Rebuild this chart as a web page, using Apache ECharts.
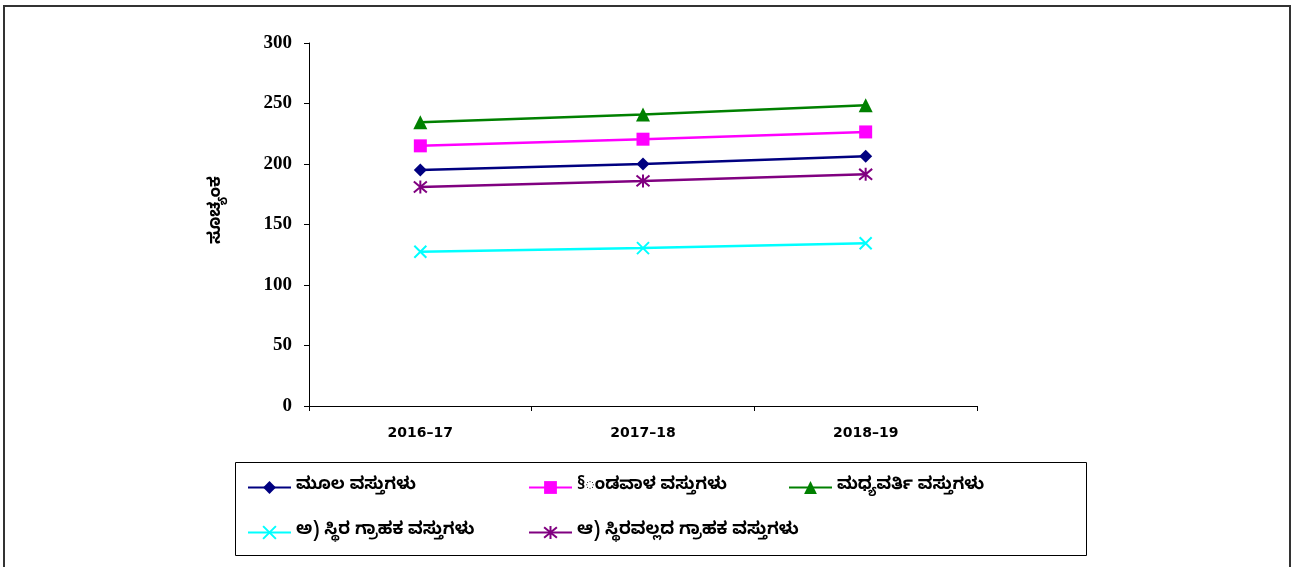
<!DOCTYPE html>
<html>
<head>
<meta charset="utf-8">
<script src="https://cdn.jsdelivr.net/npm/echarts@6/dist/echarts.min.js"></script>
<style>
html,body{margin:0;padding:0;background:#fff;}
#chart{width:1305px;height:567px;}
</style>
</head>
<body>
<div id="chart"></div>
<script>
const categories = ['2016-17', '2017-18', '2018-19'];
const yTicks = [0, 50, 100, 150, 200, 250, 300];
const yAxisTitle = 'ಸೂಚ್ಯಂಕ';
const seriesNames = ['ಮೂಲ ವಸ್ತುಗಳು', '§ಂಡವಾಳ ವಸ್ತುಗಳು', 'ಮಧ್ಯವರ್ತಿ ವಸ್ತುಗಳು', 'ಅ) ಸ್ಥಿರ ಗ್ರಾಹಕ ವಸ್ತುಗಳು', 'ಆ) ಸ್ಥಿರವಲ್ಲದ ಗ್ರಾಹಕ ವಸ್ತುಗಳು'];
const basicGoods = [195, 200, 206.5];
const capitalGoods = [215, 220.5, 226.5];
const intermediateGoods = [234.5, 241, 248.5];
const consumerDurables = [127.5, 130.5, 134.5];
const consumerNonDurables = [181, 186, 191.5];

const kn = '"Noto Sans Kannada","Lohit Kannada","Tunga","Noto Sans","DejaVu Sans",sans-serif';
const colors = ['#000080', '#FF00FF', '#008000', '#00FFFF', '#800080'];
const symbols = ['diamond', 'rect', 'triangle', 'path://M0,0L10,10M10,0L0,10', 'path://M0,0L10,10M10,0L0,10M5,-1L5,11'];
const symbolSizes = [13, 13, 14, 12, 13];
const dataSets = [basicGoods, capitalGoods, intermediateGoods, consumerDurables, consumerNonDurables];
const legendPos = [[247, 479], [528, 479], [788, 479], [247, 524], [528, 524]];

const series = dataSets.map((d, i) => {
  const isPath = symbols[i].startsWith('path://');
  return {
    name: seriesNames[i],
    type: 'line',
    data: d,
    symbol: symbols[i],
    symbolSize: symbolSizes[i],
    lineStyle: { color: colors[i], width: 2.5 },
    itemStyle: isPath ? { color: colors[i], borderColor: colors[i], borderWidth: 2 } : { color: colors[i] },
    emphasis: { disabled: true },
    animation: false
  };
});

const legends = seriesNames.map((n, i) => ({
  data: [n],
  left: legendPos[i][0],
  top: legendPos[i][1],
  padding: 0,
  orient: 'horizontal',
  itemWidth: 43,
  itemHeight: 16,
  itemGap: 4,
  selectedMode: false,
  textStyle: { fontFamily: kn, fontSize: 17, fontWeight: 'bold', color: '#000' }
}));

const chart = echarts.init(document.getElementById('chart'), null, { renderer: 'canvas' });
chart.setOption({
  backgroundColor: '#fff',
  animation: false,
  grid: { left: 309, right: 328, top: 43, bottom: 161, containLabel: false },
  xAxis: {
    type: 'category',
    data: categories,
    boundaryGap: true,
    axisLine: { lineStyle: { color: '#000', width: 1 } },
    axisTick: { show: true, inside: false, length: 5, lineStyle: { color: '#000' } },
    axisLabel: { margin: 20, color: '#000', fontFamily: '"DejaVu Sans",sans-serif', fontWeight: 'bold', fontSize: 14, formatter: v => v.replace('-', '–') },
    splitLine: { show: false }
  },
  yAxis: {
    type: 'value',
    min: yTicks[0],
    max: yTicks[yTicks.length - 1],
    interval: yTicks[1] - yTicks[0],
    axisLine: { show: true, lineStyle: { color: '#000', width: 1 } },
    axisTick: { show: true, inside: false, length: 5, lineStyle: { color: '#000' } },
    axisLabel: { margin: 17, color: '#000', fontFamily: '"Liberation Serif","Times New Roman",serif', fontWeight: 'bold', fontSize: 19 },
    splitLine: { show: false }
  },
  legend: legends,
  graphic: [
    { type: 'rect', shape: { x: 4, y: 6, width: 1286, height: 600 }, style: { fill: null, stroke: '#333', lineWidth: 2 }, silent: true, z: -1 },
    { type: 'rect', shape: { x: 235.5, y: 462.5, width: 851, height: 93 }, style: { fill: null, stroke: '#000', lineWidth: 1 }, silent: true, z: -1 },
    { type: 'text', x: 218, y: 210, rotation: Math.PI / 2, style: { text: yAxisTitle, fontFamily: kn, fontSize: 17, fontWeight: 'bold', fill: '#000', align: 'center', verticalAlign: 'middle' }, silent: true }
  ],
  series: series
});
</script>
</body>
</html>
